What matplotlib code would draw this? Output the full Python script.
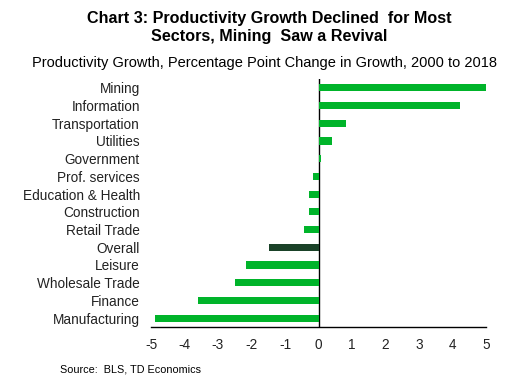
import matplotlib
matplotlib.use("Agg")
import matplotlib.pyplot as plt

categories = ["Mining", "Information", "Transportation", "Utilities", "Government",
              "Prof. services", "Education & Health", "Construction", "Retail Trade",
              "Overall", "Leisure", "Wholesale Trade", "Finance", "Manufacturing"]
values = [5.0, 4.22, 0.82, 0.40, 0.06, -0.16, -0.28, -0.28, -0.43,
          -1.48, -2.16, -2.49, -3.6, -4.88]
highlight = "Overall"
xticks = [-5, -4, -3, -2, -1, 0, 1, 2, 3, 4, 5]

plt.rcParams['font.family'] = ['Liberation Sans', 'DejaVu Sans']

fig = plt.figure(figsize=(5.18, 3.85), dpi=100)
ax = fig.add_axes([151/518, 1-327/385, (486-151)/518, (327-79)/385])

green = "#00B42A"
dark = "#1A4228"
colors = [dark if c == highlight else green for c in categories]
ypos = list(range(len(categories)))[::-1]
ax.barh(ypos, values, height=0.4, color=colors, zorder=4)
ax.set_xlim(-5, 5)
ax.set_ylim(-0.5, len(categories) - 0.5)
ax.set_yticks(ypos)
ax.set_yticklabels(categories, fontsize=9.8, color="#222222")
ax.set_xticks(xticks)
ax.set_xticklabels([str(t) for t in xticks], fontsize=9.8, color="#222222")
ax.tick_params(axis='y', length=0, pad=8)
ax.tick_params(axis='x', length=0, pad=8)
for s in ["top", "right", "left"]:
    ax.spines[s].set_visible(False)
ax.spines["bottom"].set_color("black")
ax.spines["bottom"].set_linewidth(1.0)
ax.axvline(0, color="black", linewidth=1.0, zorder=3)

fig.text(269/518, 1-27/385, "Chart 3: Productivity Growth Declined  for Most\nSectors, Mining  Saw a Revival",
         ha="center", va="center", fontsize=11.6, fontweight="bold", linespacing=1.25)
fig.text(264/518, 1-63/385, "Productivity Growth, Percentage Point Change in Growth, 2000 to 2018",
         ha="center", va="center", fontsize=10.5)
fig.text(60/518, 1-369/385, "Source:  BLS, TD Economics", ha="left", va="center", fontsize=7.8)

fig.savefig("out.png", dpi=100)
